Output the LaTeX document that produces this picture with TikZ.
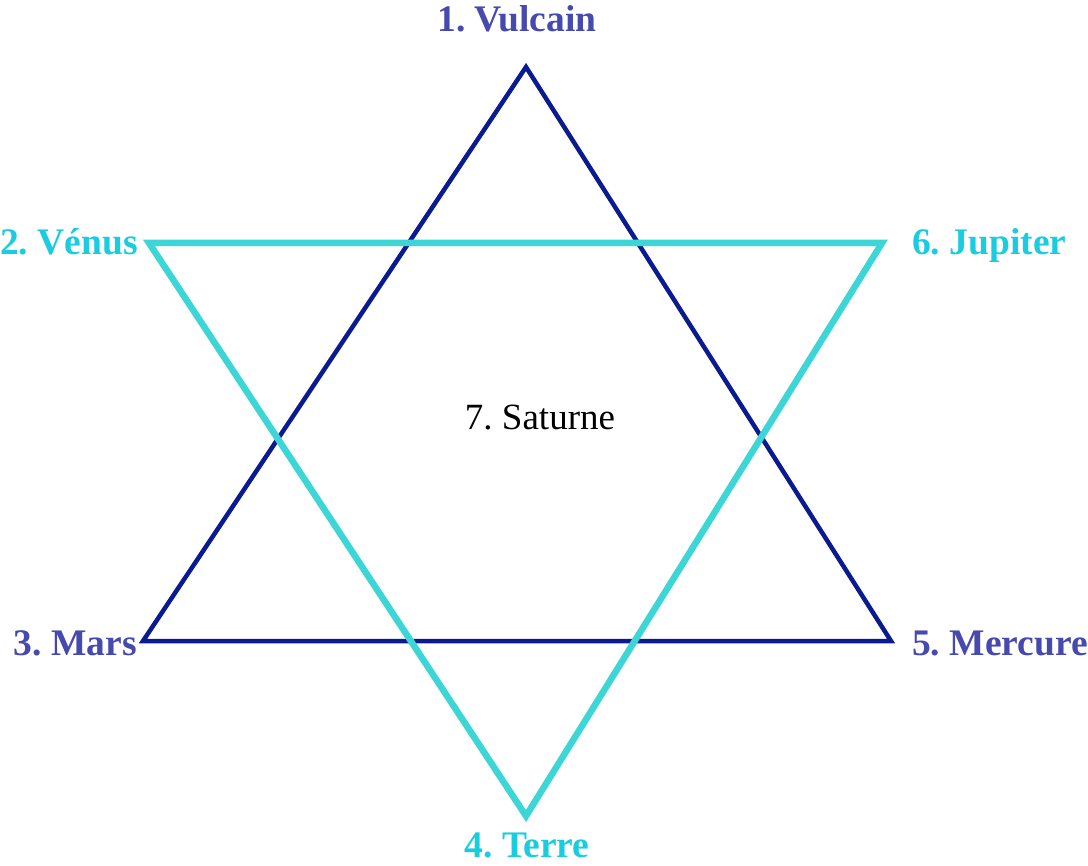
\documentclass[tikz,border=0pt]{standalone}
\usepackage{fontspec}
\setmainfont{Liberation Serif}
\definecolor{navy}{HTML}{0A1A8F}
\definecolor{turq}{HTML}{3CD6D6}
\definecolor{lblue}{HTML}{4649AE}
\definecolor{lcyan}{HTML}{1ACCE0}
\tikzset{
  bluetri/.style={draw=navy, line width=4.5pt, line join=miter},
  cyantri/.style={draw=turq, line width=6.5pt, line join=miter},
  lbl/.style={inner sep=0pt, font=\fontsize{37.5}{40}\selectfont\bfseries},
  bl/.style={lbl, text=lblue},
  cl/.style={lbl, text=lcyan},
}
\begin{document}
\frenchspacing
\begin{tikzpicture}[x=1pt,y=-1pt]
\useasboundingbox (0,0) rectangle (1088,866);
\coordinate (A) at (526,67);
\coordinate (B) at (143,641);
\coordinate (C) at (891,641);
\coordinate (D) at (149,243);
\coordinate (E) at (882,243);
\coordinate (F) at (526,816);
\draw[bluetri] (A) -- (B) -- (C) -- cycle;
\draw[cyantri] (D) -- (E) -- (F) -- cycle;
\node[bl, anchor=base] (l1) at (517,32) {1. Vulcain};
\node[cl, anchor=base west] (l2) at (0,255) {2. Vénus};
\node[bl, anchor=base east] (l3) at (137,655) {3. Mars};
\node[cl, anchor=base] (l4) at (527,857) {4. Terre};
\node[bl, anchor=base west] (l5) at (912,655) {5. Mercure};
\node[cl, anchor=base west] (l6) at (912,255) {6. Jupiter};
\node[inner sep=0pt, font=\fontsize{37}{40}\selectfont, anchor=base] (l7) at (540,430) {7. Saturne};
\end{tikzpicture}
\end{document}
